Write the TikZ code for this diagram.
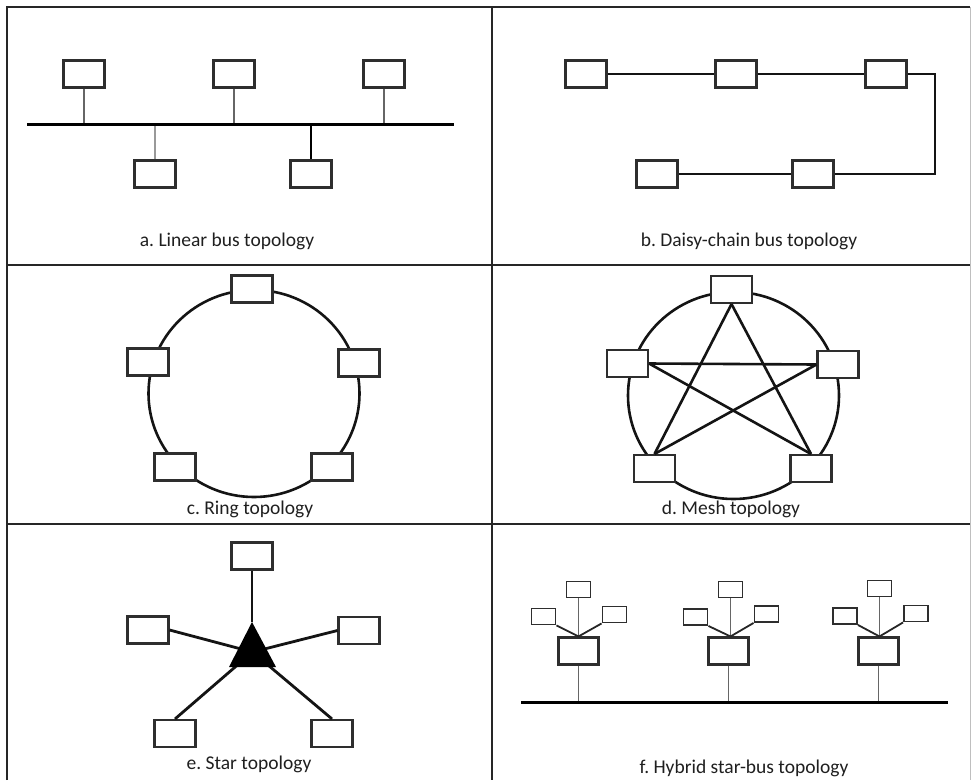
\documentclass[tikz,border=0pt]{standalone}
\usepackage{fontspec}
\setmainfont{Carlito}
\frenchspacing
\begin{document}
\begin{tikzpicture}[x=1pt,y=-1pt,
  box/.style={draw=black!82,line width=2.1pt,fill=white,minimum width=41pt,minimum height=27pt,inner sep=0pt},
  sbox/.style={draw=black!82,line width=1.9pt,fill=white,minimum width=24pt,minimum height=16pt,inner sep=0pt},
  bbox/.style={draw=black!82,line width=2.1pt,fill=white,minimum width=40pt,minimum height=27pt,inner sep=0pt},
  frame/.style={draw=black!85,line width=2.2pt},
  bus/.style={draw=black,line width=3pt},
  link/.style={draw=black!92,line width=2.6pt},
  stem/.style={draw=black!60,line width=1.4pt},
  slink/.style={draw=black!85,line width=1.8pt},
  lbl/.style={font=\fontsize{19.5}{23}\selectfont,text=black!88,inner sep=0pt}]
\useasboundingbox (0,0) rectangle (972,780);
% frame
\coordinate (fTL) at (7,7); \coordinate (fTR) at (970,7);
\coordinate (fBL) at (7,780); \coordinate (fBR) at (970,780);
\coordinate (fMT) at (492,7); \coordinate (fMB) at (492,780);
\coordinate (fH1L) at (7,265); \coordinate (fH1R) at (970,265);
\coordinate (fH2L) at (7,524); \coordinate (fH2R) at (970,524);
\draw[frame] (fBL) -- (fTL) -- (fTR);
\draw[draw=black!25,line width=1pt] (fTR) -- (fBR);
\draw[frame] (fMT) -- (fMB);
\draw[frame] (fH1L) -- (fH1R);
\draw[frame] (fH2L) -- (fH2R);

% ---------- a. Linear bus
\coordinate (abusL) at (27,124); \coordinate (abusR) at (454,124);
\node[box] (a1) at (84,74) {};
\node[box] (a2) at (234,74) {};
\node[box] (a3) at (384,74) {};
\node[box] (a4) at (155,174) {};
\node[box] (a5) at (311,174) {};
\draw[stem] (a1.south) -- (a1.south |- abusL);
\draw[stem] (a2.south) -- (a2.south |- abusL);
\draw[stem] (a3.south) -- (a3.south |- abusL);
\draw[stem,draw=black!40] (a4.north) -- (a4.north |- abusL);
\draw[draw=black,line width=2pt] (a5.north) -- (a5.north |- abusL);
\draw[bus] (abusL) -- (abusR);
\node[lbl] (la) at (227,241) {a. Linear bus topology};

% ---------- b. Daisy chain
\node[box] (b1) at (586,74) {};
\node[box] (b2) at (736,74) {};
\node[box] (b3) at (886,74) {};
\node[box] (b4) at (657,174) {};
\node[box] (b5) at (813,174) {};
\coordinate (bc1) at (935,74); \coordinate (bc2) at (935,174);
\draw[link] (b1.east) -- (b2.west);
\draw[link] (b2.east) -- (b3.west);
\draw[link] (b3.east) -- (bc1) -- (bc2) -- (b5.east);
\draw[link] (b4.east) -- (b5.west);
\node[lbl] (lb) at (749,241) {b. Daisy-chain bus topology};

% ---------- c. Ring
\coordinate (cC) at (254,393.5);
\draw[link] (cC) ellipse [x radius=105.5,y radius=103.5];
\node[box] (c1) at (252,289) {};
\node[box] (c2) at (148,362) {};
\node[box] (c3) at (359,363) {};
\node[box] (c4) at (175,467) {};
\node[box] (c5) at (332,467) {};
\node[lbl] (lc) at (250,509) {c. Ring topology};

% ---------- d. Mesh
\coordinate (dC) at (733.5,395.5);
\draw[link] (dC) ellipse [x radius=105.5,y radius=103.5];
\node[box] (d1) at (731.5,289.5) {};
\node[box] (d2) at (627.5,363.5) {};
\node[box] (d3) at (838,364.5) {};
\node[box] (d4) at (654.5,468.5) {};
\node[box] (d5) at (811,468.5) {};
\draw[link] (d1.south) -- (d4.north);
\draw[link] (d1.south) -- (d5.north);
\draw[link] (d2.east) -- (d3.west);
\draw[link] (d2.east) -- (d5.north);
\draw[link] (d3.west) -- (d4.north);
\node[lbl] (ld) at (731,509) {d. Mesh topology};

% ---------- e. Star
\coordinate (eA) at (252,622); \coordinate (eL) at (229,667); \coordinate (eR) at (276,667);
\coordinate (eH) at (252.5,652);
\node[box] (e1) at (252,556) {};
\node[box] (e2) at (148,630) {};
\node[box] (e3) at (359,630.5) {};
\node[box] (e4) at (175,733.5) {};
\node[box] (e5) at (332,733.5) {};
\draw[link,line width=2.8pt] (e1.south) -- (eA);
\draw[link,line width=2.8pt] (e2.east) -- (eH);
\draw[link,line width=2.8pt] (e3.west) -- (eH);
\draw[link,line width=2.8pt] (e4.north) -- (eH);
\draw[link,line width=2.8pt] (e5.north) -- (eH);
\fill[black] (eA) -- (eL) -- (eR) -- cycle;
\node[lbl] (le) at (249,764) {e. Star topology};

% ---------- f. Hybrid star-bus
\coordinate (fbusL) at (521,702); \coordinate (fbusR) at (948,702);
% group 1
\node[bbox] (g1) at (578.5,651) {};
\node[sbox] (g1t) at (578.5,589.5) {};
\node[sbox] (g1l) at (543.5,616.5) {};
\node[sbox] (g1r) at (614.5,614.5) {};
% group 2
\node[bbox] (g2) at (728.5,651) {};
\node[sbox] (g2t) at (730.5,589.5) {};
\node[sbox] (g2l) at (695.5,617) {};
\node[sbox] (g2r) at (766.5,614) {};
% group 3
\node[bbox] (g3) at (878.5,651) {};
\node[sbox] (g3t) at (879.5,588.5) {};
\node[sbox] (g3l) at (845,616) {};
\node[sbox] (g3r) at (916,613.5) {};
\foreach \g in {g1,g2,g3}{
  \draw[stem] (\g t.south) -- (\g t.south |- \g.north);
  \draw[slink] (\g l.south east) -- (\g t.south |- \g.north);
  \draw[slink] (\g r.south west) -- (\g t.south |- \g.north);
  \draw[stem] (\g.south) -- (\g.south |- fbusL);
}
\draw[bus] (fbusL) -- (fbusR);
\node[lbl] (lf) at (744,768) {f. Hybrid star-bus topology};
\end{tikzpicture}
\end{document}
